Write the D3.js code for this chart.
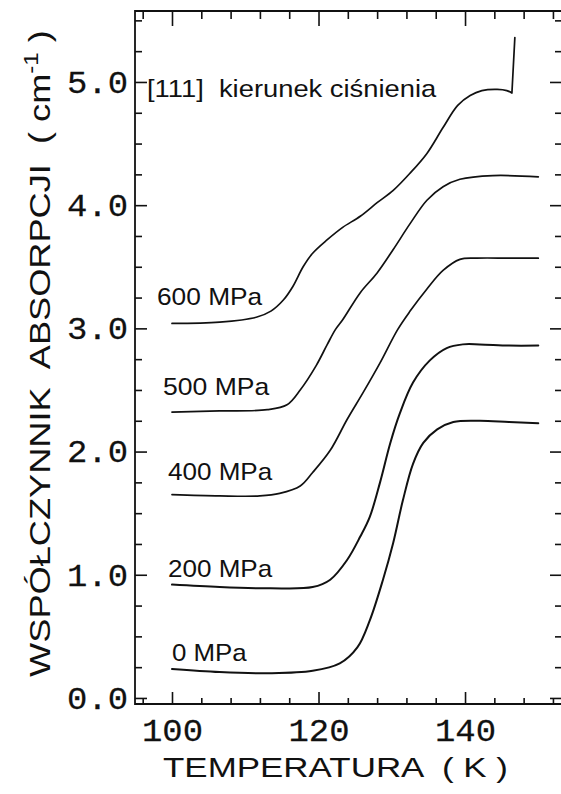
<!DOCTYPE html>
<html><head><meta charset="utf-8">
<script src="https://cdn.jsdelivr.net/npm/d3@7"></script>
<style>
html,body{margin:0;padding:0;background:#fff;}
svg{display:block;}
</style></head>
<body>
<svg id="chart" width="561" height="794"></svg>
<script>
// ---------------- data ----------------
const seriesNames = ["0 MPa", "200 MPa", "400 MPa", "500 MPa", "600 MPa"];

const temp0   = [100, 106.5, 113.4, 119.2, 122.9, 125.3, 127.0, 128.8, 130.2, 131.5, 132.9, 134.3, 136.2, 138.4, 142.0, 146.0, 150.0];
const absorb0 = [0.235, 0.21, 0.20, 0.22, 0.28, 0.41, 0.63, 0.96, 1.26, 1.60, 1.90, 2.07, 2.18, 2.24, 2.25, 2.24, 2.23];

const temp200   = [100, 106.5, 113.4, 119.2, 121.6, 123.9, 125.7, 127.0, 128.4, 129.8, 131.1, 132.9, 135.2, 137.5, 139.7, 142.0, 146.0, 150.0];
const absorb200 = [0.92, 0.90, 0.89, 0.90, 0.96, 1.12, 1.31, 1.47, 1.75, 2.07, 2.31, 2.56, 2.74, 2.84, 2.87, 2.87, 2.86, 2.86];

const temp400   = [100, 106.5, 112.0, 114.7, 117.5, 119.2, 121.6, 123.9, 126.1, 128.4, 130.8, 132.5, 134.8, 137.0, 139.3, 141.6, 146.0, 150.0];
const absorb400 = [1.65, 1.64, 1.64, 1.66, 1.72, 1.83, 2.01, 2.26, 2.48, 2.72, 2.99, 3.14, 3.32, 3.47, 3.56, 3.57, 3.57, 3.57];

const temp500   = [100, 106.5, 113.0, 115.7, 117.5, 119.7, 121.2, 122.3, 123.3, 125.7, 128.0, 130.2, 132.5, 134.8, 137.0, 139.3, 143.8, 150.0];
const absorb500 = [2.32, 2.33, 2.34, 2.38, 2.50, 2.70, 2.87, 2.99, 3.07, 3.29, 3.45, 3.64, 3.85, 4.04, 4.15, 4.21, 4.24, 4.23];

const temp600   = [100, 106.5, 111.5, 113.5, 115.2, 116.5, 117.9, 119.2, 121.2, 123.3, 125.7, 128.0, 130.2, 132.5, 134.8, 137.0, 139.0, 140.7, 142.3, 144.4, 145.7, 146.4, 146.8];
const absorb600 = [3.04, 3.05, 3.09, 3.14, 3.23, 3.34, 3.50, 3.61, 3.72, 3.82, 3.91, 4.02, 4.12, 4.26, 4.42, 4.63, 4.81, 4.89, 4.93, 4.94, 4.93, 4.91, 5.36];

const xMajorTicks = [100, 120, 140];
const xTickLabels = ["100", "120", "140"];
const xMinorTicks = [96, 104, 108, 112, 116, 124, 128, 132, 136, 144, 148, 152];
const yMajorTicks = [0, 1, 2, 3, 4, 5];
const yTickLabels = ["0.0", "1.0", "2.0", "3.0", "4.0", "5.0"];
const yMinorTicks = [0.25, 0.5, 0.75, 1.25, 1.5, 1.75, 2.25, 2.5, 2.75, 3.25, 3.5, 3.75, 4.25, 4.5, 4.75, 5.25, 5.5];

const xTitle = "TEMPERATURA  ( K )";
const yTitleMain = "WSPÓŁCZYNNIK  ABSORPCJI  ( cm";
const yTitleSup = "-1";
const yTitleEnd = " )";
const noteText = "[111]  kierunek ciśnienia";

// ---------------- drawing ----------------
const svg = d3.select("#chart");
const L = 135, R = 561, T = 11, B = 704;
const ink = "#111";

const x = d3.scaleLinear().domain([94.95, 153.1]).range([L, R]);
const y = d3.scaleLinear().domain([-0.049, 5.576]).range([B, T]);

const series = [
  [temp0, absorb0], [temp200, absorb200], [temp400, absorb400],
  [temp500, absorb500], [temp600, absorb600]
].map(([t, v]) => t.map((d, i) => [d, v[i]]));

function styleAxis(g) {
  g.select(".domain").remove();
  g.selectAll(".tick line").attr("stroke", ink).attr("stroke-width", 1.6);
}

// left axis: major with labels, minor
const gL = svg.append("g").attr("transform", `translate(${L},0)`)
  .call(d3.axisLeft(y).tickValues(yMajorTicks).tickSize(-12).tickPadding(7)
        .tickFormat((d, i) => yTickLabels[i]));
styleAxis(gL);
svg.append("g").attr("transform", `translate(${L},0)`)
  .call(d3.axisLeft(y).tickValues(yMinorTicks).tickSize(-7).tickFormat(""))
  .call(styleAxis);

// right axis (ticks only)
svg.append("g").attr("transform", `translate(${R},0)`)
  .call(d3.axisRight(y).tickValues(yMajorTicks).tickSize(-11).tickFormat(""))
  .call(styleAxis);
svg.append("g").attr("transform", `translate(${R},0)`)
  .call(d3.axisRight(y).tickValues(yMinorTicks).tickSize(-6).tickFormat(""))
  .call(styleAxis);

// bottom axis
const gB = svg.append("g").attr("transform", `translate(0,${B})`)
  .call(d3.axisBottom(x).tickValues(xMajorTicks).tickSize(-12)
        .tickFormat((d, i) => xTickLabels[i]));
styleAxis(gB);
svg.append("g").attr("transform", `translate(0,${B})`)
  .call(d3.axisBottom(x).tickValues(xMinorTicks).tickSize(-6).tickFormat(""))
  .call(styleAxis);

// top axis
svg.append("g").attr("transform", `translate(0,${T})`)
  .call(d3.axisTop(x).tickValues(xMajorTicks).tickSize(-15).tickFormat(""))
  .call(styleAxis);
svg.append("g").attr("transform", `translate(0,${T})`)
  .call(d3.axisTop(x).tickValues(xMinorTicks).tickSize(-8).tickFormat(""))
  .call(styleAxis);

// frame (left, top, bottom)
svg.append("path")
  .attr("d", `M${R + 2},${T} H${L} V${B} H${R + 2}`)
  .attr("fill", "none").attr("stroke", ink).attr("stroke-width", 1.8);

// tick label fonts
const tickFont = "'Liberation Mono', 'Courier New', monospace";
gL.selectAll(".tick text")
  .attr("font-family", tickFont).attr("font-size", 32).attr("fill", ink)
  .attr("stroke", ink).attr("stroke-width", 0.25)
  .attr("x", 0).attr("dy", "0.32em")
  .attr("transform", "translate(-7,0) scale(1.06,1)");
gB.selectAll(".tick text")
  .attr("font-family", tickFont).attr("font-size", 32).attr("fill", ink)
  .attr("stroke", ink).attr("stroke-width", 0.25)
  .attr("y", 37).attr("dy", 0)
  .attr("transform", "scale(1.06,1)");

// curves: smooth Catmull-Rom; a final near-vertical step is joined straight
const smooth = d3.line().x(d => x(d[0])).y(d => y(d[1])).curve(d3.curveCatmullRom.alpha(0.5));
function curvePath(pts) {
  const n = pts.length;
  const a = pts[n - 2], b = pts[n - 1];
  const steep = Math.abs((y(b[1]) - y(a[1])) / (x(b[0]) - x(a[0]))) > 8;
  if (!steep) return smooth(pts);
  return smooth(pts.slice(0, -1)) + "L" + x(b[0]) + "," + y(b[1]);
}
svg.append("g").selectAll("path").data(series).join("path")
  .attr("d", curvePath)
  .attr("fill", "none").attr("stroke", ink)
  .attr("stroke-width", (d, i) => i < 2 ? 2.0 : 1.7)
  .attr("stroke-linejoin", "round").attr("stroke-linecap", "round");

// helper: place text starting at (px,py) stretched to width w
const sans = "'Liberation Sans', Arial, Helvetica, sans-serif";
function placeText(str, px, py, w, size) {
  const t = svg.append("text").text(str)
    .attr("font-family", sans).attr("font-size", size).attr("fill", ink)
    .style("white-space", "pre").attr("x", 0).attr("y", 0);
  const bw = t.node().getBBox().width;
  t.attr("transform", `translate(${px},${py}) scale(${w / bw},1)`);
  return t;
}

// series labels, anchored in data units
const labelAnchor = [[100.0, 0.30], [99.45, 0.982], [99.45, 1.769], [98.77, 2.459], [97.95, 3.19]];
const labelWidth = [75.5, 105, 105, 107, 106];
seriesNames.forEach((name, i) => {
  placeText(name, x(labelAnchor[i][0]), y(labelAnchor[i][1]), labelWidth[i], 24);
});

// note
placeText(noteText, x(96.59), y(4.878), 290, 24);

// x title
placeText(xTitle, 163, 777, 345, 28);

// y title
const yt = svg.append("text")
  .attr("font-family", sans).attr("font-size", 30).attr("fill", ink)
  .attr("text-anchor", "middle").style("white-space", "pre")
  .attr("x", 0).attr("y", 0);
yt.append("tspan").text(yTitleMain);
yt.append("tspan").text(yTitleSup).attr("font-size", 20).attr("dy", -12);
yt.append("tspan").text(yTitleEnd).attr("dy", 12);
const ybw = yt.node().getBBox().width;
yt.attr("transform", `translate(50,353.5) rotate(-90) scale(${647 / ybw},1)`);
</script>
</body></html>
